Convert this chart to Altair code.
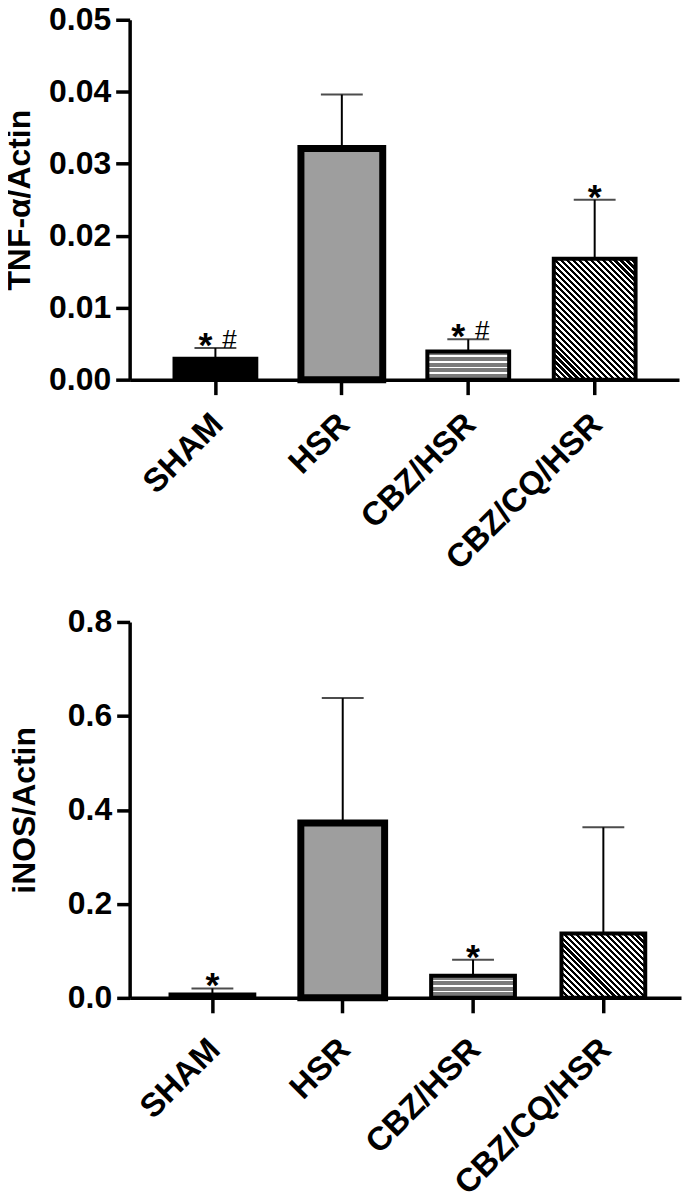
import altair as alt
import pandas as pd

# ---------------- data ----------------
groups = ["SHAM", "HSR", "CBZ/HSR", "CBZ/CQ/HSR"]

tnf_mean = [0.0029, 0.0321, 0.0039, 0.0168]
tnf_sd = [0.0015, 0.0075, 0.0017, 0.0082]
tnf_star = ["*", "", "*", "*"]
tnf_hash = ["#", "", "#", ""]

inos_mean = [0.007, 0.372, 0.047, 0.137]
inos_sd = [0.013, 0.266, 0.034, 0.226]
inos_star = ["*", "", "*", ""]
inos_hash = ["", "", "", ""]

tnf_ticks = [0.0, 0.01, 0.02, 0.03, 0.04, 0.05]
inos_ticks = [0.0, 0.2, 0.4, 0.6, 0.8]

FONT = "Liberation Sans"


def hstripes(h_px, period=6.0, white=0.32, gray="#7a7a7a"):
    n = max(1, round(h_px / period))
    stops = []
    for i in range(n):
        a, b, c = i / n, (i + 1 - white) / n, (i + 1) / n
        stops += [(a, gray), (b, gray), (b, "#ffffff"), (c, "#ffffff")]
    return alt.Gradient(gradient="linear", x1=0, y1=0, x2=0, y2=1,
                        stops=[alt.GradientStop(offset=o, color=col) for o, col in stops])


def dstripes(w, h, period=6.0, black=0.52):
    k = (w + h) / (w * w + h * h)
    n = max(1, round((w + h) / period))
    stops = []
    for i in range(n):
        a, b, c = i / n, (i + black) / n, (i + 1) / n
        stops += [(a, "#000000"), (b, "#000000"), (b, "#ffffff"), (c, "#ffffff")]
    return alt.Gradient(gradient="linear", x1=0, y1=1, x2=k * w, y2=1 - k * h,
                        stops=[alt.GradientStop(offset=o, color=col) for o, col in stops])


def panel(means, sds, stars, hashes, title, ticks, fmt, width, height,
          step, first_start, p_in, lab_pad, title_pad, ytick):
    ymax = ticks[-1]
    df = pd.DataFrame({
        "group": groups,
        "mean": means,
        "upper": [m + s for m, s in zip(means, sds)],
        "star": stars,
        "hash": hashes,
    })
    n = len(groups)
    p_out = (width / step - (n - p_in)) / 2
    band_align = first_start / (width - step * (n - p_in))
    bw = step * (1 - p_in)
    px_per = height / ymax

    xenc = alt.X("group:N", sort=groups,
                 scale=alt.Scale(domain=groups, paddingInner=p_in, paddingOuter=p_out,
                                 align=band_align),
                 axis=alt.Axis(title=None, labelAngle=-45, labelAlign="right",
                               labelBaseline="top", labelFontSize=33, labelFont=FONT,
                               labelFontWeight="bold", labelColor="black", labelOffset=-9,
                               labelPadding=lab_pad, labelLimit=500, tickSize=15,
                               tickWidth=3.5, tickColor="black", domainColor="black",
                               domainWidth=3.5, grid=False))
    yaxis = alt.Axis(title=title, values=ticks, format=fmt, grid=False,
                     labelFontSize=32, labelFont=FONT, labelFontWeight="bold",
                     labelColor="black", labelPadding=5, tickSize=ytick, tickWidth=3.5,
                     tickColor="black", domainColor="black", domainWidth=3.5,
                     titleFontSize=32, titleFont=FONT, titleFontWeight="bold",
                     titleColor="black", titlePadding=title_pad)
    yscale = alt.Scale(domain=[0, ymax], nice=False)

    def Y(field):
        return alt.Y(field, scale=yscale, axis=yaxis)

    base = alt.Chart(df)

    err = base.mark_rule(color="black", strokeWidth=2).encode(
        x=xenc, y=Y("mean:Q"), y2="upper:Q")
    cap = base.mark_tick(orient="horizontal", color="black", size=42, thickness=2).encode(
        x=xenc, y=Y("upper:Q"))

    h_cbz = means[2] * px_per
    h_cq = means[3] * px_per

    b_sham = base.mark_bar(fill="#000000", stroke="black", strokeWidth=4).encode(
        x=xenc, y=Y("mean:Q")).transform_filter(alt.datum.group == "SHAM")
    b_hsr = base.mark_bar(fill="#9e9e9e", stroke="black", strokeWidth=7).encode(
        x=xenc, y=Y("mean:Q")).transform_filter(alt.datum.group == "HSR")
    b_cbz = base.mark_bar(fill=hstripes(h_cbz), stroke="black", strokeWidth=4).encode(
        x=xenc, y=Y("mean:Q")).transform_filter(alt.datum.group == "CBZ/HSR")
    b_cq = base.mark_bar(fill=dstripes(bw, h_cq), stroke="black", strokeWidth=4).encode(
        x=xenc, y=Y("mean:Q")).transform_filter(alt.datum.group == "CBZ/CQ/HSR")

    star_single = base.mark_text(font=FONT, fontSize=36, fontWeight="bold",
                                 baseline="alphabetic", dy=9, color="black").encode(
        x=xenc, y=Y("upper:Q"), text="star:N").transform_filter(
        "datum.star != '' && datum.hash == ''")
    star_pair = base.mark_text(font=FONT, fontSize=36, fontWeight="bold",
                               baseline="alphabetic", dy=9, dx=-10, color="black").encode(
        x=xenc, y=Y("upper:Q"), text="star:N").transform_filter(
        "datum.star != '' && datum.hash != ''")
    hash_t = base.mark_text(font=FONT, fontSize=26, fontWeight="normal",
                            baseline="alphabetic", dy=0, dx=14, color="black").encode(
        x=xenc, y=Y("upper:Q"), text="hash:N").transform_filter("datum.hash != ''")

    return alt.layer(err, cap, b_sham, b_hsr, b_cbz, b_cq,
                     star_single, star_pair, hash_t).properties(width=width, height=height)


top = panel(tnf_mean, tnf_sd, tnf_star, tnf_hash, "TNF-α/Actin", tnf_ticks, ".2f",
            551, 361, 126.8, 45, 0.353, 13, 12, 14)
bottom = panel(inos_mean, inos_sd, inos_star, inos_hash, "iNOS/Actin", inos_ticks, ".1f",
               553, 377, 130.7, 41, 0.357, 20, 26, 13)

chart = alt.concat(top, bottom, columns=1, spacing=28).properties(
    padding={"left": -5, "top": -7, "right": 0, "bottom": 0}
).configure_view(stroke="transparent")

chart.save("out.html", embed_options={"renderer": "svg", "actions": False})
